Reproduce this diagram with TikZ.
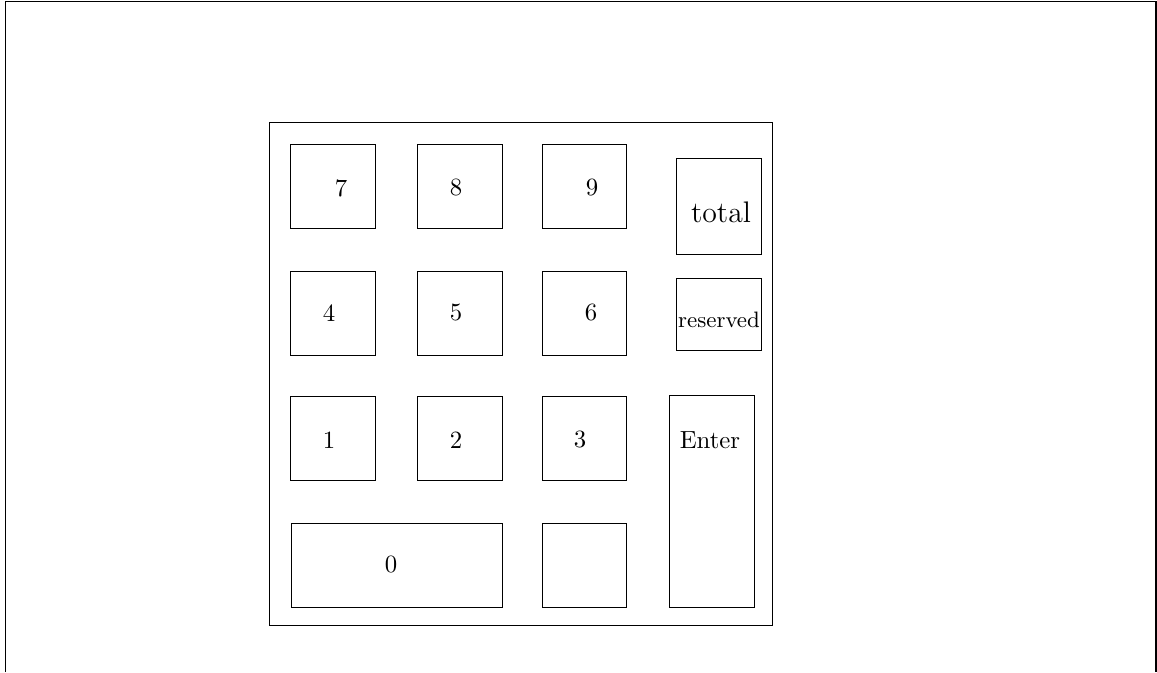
\documentclass[tikz,border=0pt]{standalone}
\begin{document}
\begin{tikzpicture}[x=0.4032pt,y=-0.4032pt,
  keybox/.style={draw,line width=0.4pt,inner sep=0pt,outer sep=0pt},
  keytext/.style={inner sep=0pt,font=\normalsize}]
\useasboundingbox (0,0) rectangle (1157,672);
% page frame
\draw[line width=0.5pt] (5.5,672) -- (5.5,1.5) -- (1156,1.5) -- (1156,672);
% keypad outline
\node[keybox,minimum width=503*0.4032pt,minimum height=503.3*0.4032pt] (pad) at (520.5,374.3) {};
% digit keys
\foreach \n/\x/\y in {k7/333/186,k8/460/186,k9/584.5/186,
                      k4/333/313,k5/460/313,k6/584.5/313,
                      k1/333/438,k2/460/438,k3/584.5/438,
                      kb/584.5/565}{
  \node[keybox,minimum width=84.5*0.4032pt,minimum height=84*0.4032pt] (\n) at (\x,\y) {};
}
\node[keybox,minimum width=211*0.4032pt,minimum height=84*0.4032pt] (k0) at (396.5,565) {};
\node[keybox,minimum width=84.6*0.4032pt,minimum height=96*0.4032pt] (ktot) at (719,206.3) {};
\node[keybox,minimum width=84.6*0.4032pt,minimum height=72*0.4032pt] (kres) at (719,314.3) {};
\node[keybox,minimum width=84.7*0.4032pt,minimum height=212*0.4032pt] (kent) at (711.7,501.7) {};
% labels
\node[keytext] (t7) at (341,188) {7};
\node[keytext] (t8) at (456,188) {8};
\node[keytext] (t9) at (592,188) {9};
\node[keytext] (t4) at (329,313) {4};
\node[keytext] (t5) at (456,313) {5};
\node[keytext] (t6) at (591,313) {6};
\node[keytext] (t1) at (329,440) {1};
\node[keytext] (t2) at (456,440) {2};
\node[keytext] (t3) at (580,440) {3};
\node[keytext] (t0) at (391,565) {0};
\node[keytext,font=\large] (ttot) at (721,212) {total};
\node[keytext,font=\small] (tres) at (719,320) {reserved};
\node[keytext] (tent) at (710,440) {Enter};
\end{tikzpicture}
\end{document}
